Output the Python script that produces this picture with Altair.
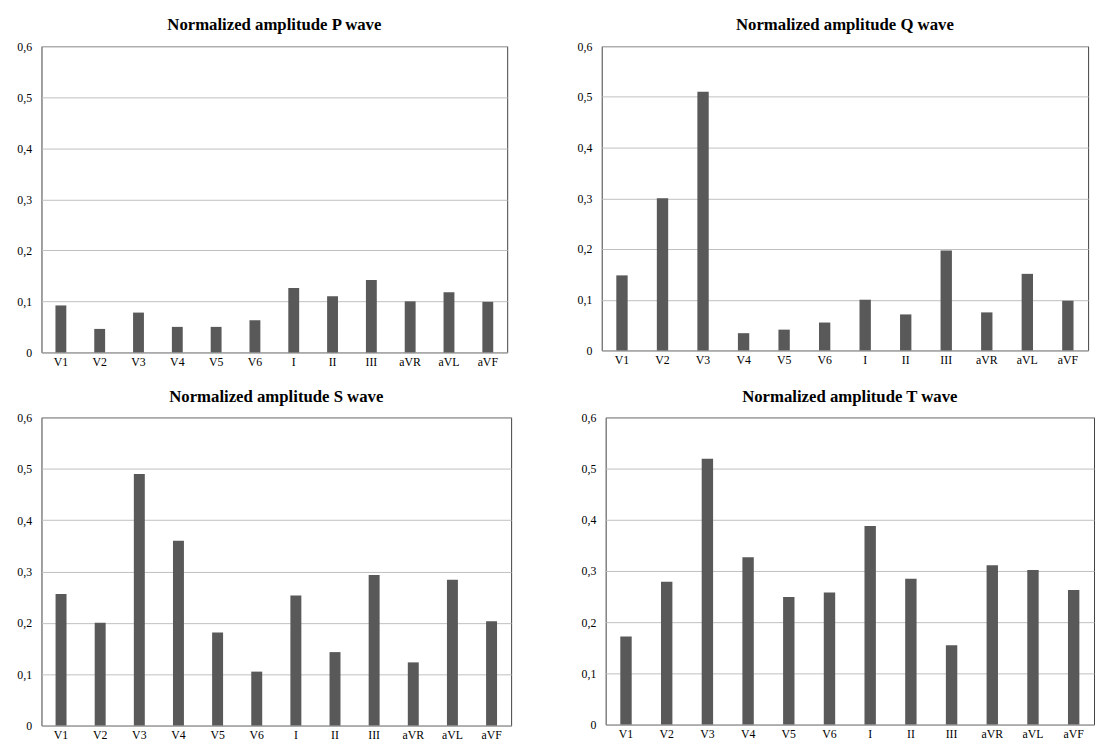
import altair as alt
import pandas as pd

leads = ["V1", "V2", "V3", "V4", "V5", "V6", "I", "II", "III", "aVR", "aVL", "aVF"]
p_wave = [0.092, 0.046, 0.078, 0.050, 0.050, 0.063, 0.126, 0.110, 0.142, 0.100, 0.118, 0.099]
q_wave = [0.148, 0.300, 0.510, 0.034, 0.041, 0.055, 0.100, 0.071, 0.197, 0.075, 0.151, 0.098]
s_wave = [0.256, 0.200, 0.490, 0.360, 0.181, 0.105, 0.253, 0.143, 0.293, 0.123, 0.284, 0.203]
t_wave = [0.172, 0.279, 0.519, 0.327, 0.249, 0.258, 0.388, 0.285, 0.155, 0.311, 0.302, 0.263]
y_ticks = [0, 0.1, 0.2, 0.3, 0.4, 0.5, 0.6]

FONT = "'Liberation Serif', 'Times New Roman', serif"


def panel(values, title, width, height):
    df = pd.DataFrame({"lead": leads, "value": values})
    return (
        alt.Chart(df, title=alt.Title(title, font=FONT, fontSize=17, fontWeight="bold",
                                      color="black", offset=6))
        .mark_bar(color="#595959")
        .encode(
            x=alt.X("lead:N", sort=leads,
                    scale=alt.Scale(paddingInner=0.72, paddingOuter=0.36),
                    axis=alt.Axis(title=None, labelAngle=0, ticks=False, domain=False,
                                  labelFont=FONT, labelFontSize=12, labelColor="black",
                                  labelPadding=4, grid=False)),
            y=alt.Y("value:Q", scale=alt.Scale(domain=[0, 0.6], nice=False),
                    axis=alt.Axis(title=None, values=y_ticks, ticks=False, domain=False,
                                  labelExpr="replace(format(datum.value, '.1~f'), '.', ',')",
                                  labelFont=FONT, labelFontSize=12, labelColor="black",
                                  labelPadding=10, grid=True, gridColor="#bfbfbf",
                                  gridWidth=1)),
        )
        .properties(width=width, height=height)
    )


top = alt.hconcat(
    panel(p_wave, "Normalized amplitude P wave", 473, 311),
    panel(q_wave, "Normalized amplitude Q wave", 494, 309),
    spacing=69,
)
bottom = alt.hconcat(
    panel(s_wave, "Normalized amplitude S wave", 477, 313),
    panel(t_wave, "Normalized amplitude T wave", 496, 312),
    spacing=69,
)
chart = (
    alt.vconcat(top, bottom, spacing=19)
    .configure_view(stroke="#404040", strokeWidth=1)
    .properties(padding={"left": 8, "top": 2, "right": 0, "bottom": 0}, background="white")
)
chart.save("out.html", embed_options={"renderer": "svg", "actions": False})
